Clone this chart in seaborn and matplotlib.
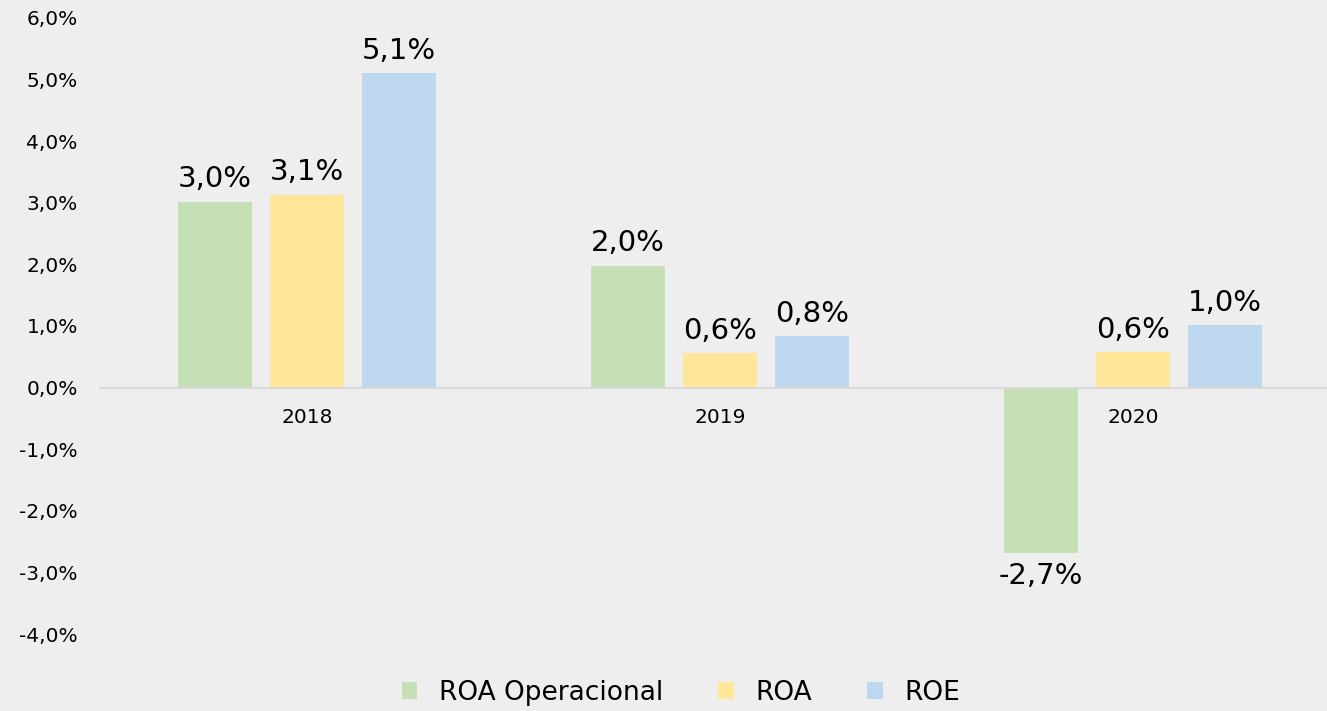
import numpy as np
import pandas as pd
import matplotlib.pyplot as plt
import seaborn as sns

years = ["2018", "2019", "2020"]
series = ["ROA Operacional", "ROA", "ROE"]
roa_oper = [3.02, 1.98, -2.69]
roa = [3.13, 0.56, 0.58]
roe = [5.10, 0.84, 1.01]
colors = ["#C5E0B4", "#FFE699", "#BDD7EE"]

df = pd.DataFrame({
    "ano": years * 3,
    "serie": np.repeat(series, 3),
    "valor": roa_oper + roa + roe,
})

sns.set_style("white")
plt.rcParams["font.family"] = ["DejaVu Sans"]
bg = "#EEEEEE"

fig = plt.figure(figsize=(13.27, 7.11), dpi=100, facecolor=bg)
ax = fig.add_axes([100 / 1327, 77 / 711, 1227 / 1327, 616 / 711])
ax.set_facecolor(bg)

sns.barplot(data=df, x="ano", y="valor", hue="serie", palette=colors,
            width=0.668, gap=0.196, ax=ax, legend=True, saturation=1,
            linewidth=0, edgecolor="none")

for cont in ax.containers:
    labels = [f"{b.get_height():.1f}%".replace(".", ",") for b in cont]
    ax.bar_label(cont, labels=labels, padding=6, fontsize=21, color="black")

ax.set_xlim(-0.501, 2.47)
ax.set_ylim(-4, 6)
ax.set_yticks(np.arange(-4, 7, 1))
ax.set_yticklabels([f"{v:.1f}%".replace(".", ",") for v in np.arange(-4, 7, 1)],
                   fontsize=14.5)
ax.tick_params(axis="y", length=0, pad=16, labelcolor="black")
ax.tick_params(axis="x", length=0, pad=15, labelsize=14.5, labelcolor="black")
ax.set_xlabel("")
ax.set_ylabel("")

for s in ["top", "right", "left"]:
    ax.spines[s].set_visible(False)
ax.spines["bottom"].set_position(("data", 0))
ax.spines["bottom"].set_color("#D9D9D9")
ax.spines["bottom"].set_linewidth(1.5)

handles, labs = ax.get_legend_handles_labels()
ax.get_legend().remove()
leg = fig.legend(handles, labs, loc="lower center", bbox_to_anchor=(0.513, -0.026),
                 ncol=3, frameon=False, fontsize=19, handlelength=0.6,
                 handleheight=0.6, columnspacing=2.1, handletextpad=0.8)
for t in leg.get_texts():
    t.set_color("black")

fig.savefig("out.png", dpi=100, facecolor=bg)
